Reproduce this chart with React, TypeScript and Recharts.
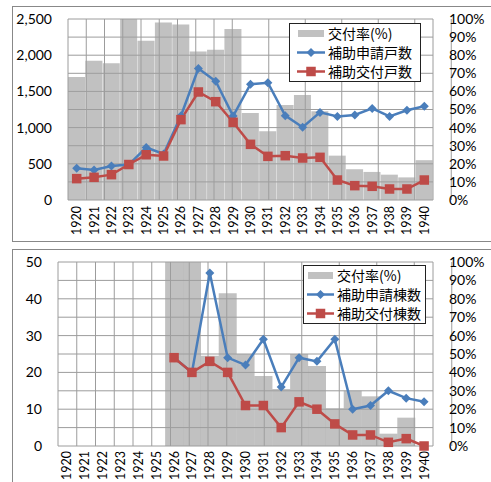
import {
  Bar,
  CartesianGrid,
  ComposedChart,
  Legend,
  Line,
  XAxis,
  YAxis,
} from "recharts";

const years = [
  "1920", "1921", "1922", "1923", "1924", "1925", "1926",
  "1927", "1928", "1929", "1930", "1931", "1932", "1933",
  "1934", "1935", "1936", "1937", "1938", "1939", "1940",
];

// 戸数
const houseRate = [
  68, 77, 75.5, 100, 88, 98, 97, 82, 83, 94.5, 48, 38, 52.5, 58, 49, 24.5, 17,
  15.5, 14, 12.5, 22,
];
const housesApplied = [
  440, 415, 470, 490, 725, 635, 1165, 1815, 1640, 1160, 1600, 1620, 1165, 1005,
  1210, 1155, 1175, 1265, 1155, 1240, 1295,
];
const housesGranted = [
  295, 313, 350, 490, 625, 608, 1110, 1492, 1358, 1073, 769, 603, 612, 580,
  589, 276, 198, 189, 152, 152, 276,
];

// 棟数
const buildingRate = [
  null, null, null, null, null, null, 100, 100, 49, 83, 50, 38, 31, 50, 43.5,
  20.5, 30, 27, 6.7, 15.4, 0,
];
const buildingsApplied = [
  null, null, null, null, null, null, 24, 20, 47, 24, 22, 29, 16, 24, 23, 29,
  10, 11, 15, 13, 12,
];
const buildingsGranted = [
  null, null, null, null, null, null, 24, 20, 23, 20, 11, 11, 5, 12, 10, 6, 3,
  3, 1, 2, 0,
];

const houseTicks = [0, 500, 1000, 1500, 2000, 2500];
const buildingTicks = [0, 10, 20, 30, 40, 50];
const pctTicks = [0, 10, 20, 30, 40, 50, 60, 70, 80, 90, 100];
const bandEdges = years.map((_, i) => i).concat(years.length);

// bars are translucent so the grid shows through them
const BAR = "#9e9e9e";
const BAR_OPACITY = 0.64;
const BAR_SWATCH = "#c1c1c1";
const BLUE = "#4a7ebb";
const RED = "#be4b48";
const GRID = "#9c9c9c";
const FONT = "Lato, 'Noto Sans CJK JP', sans-serif";
const LEGEND_FONT = "'Noto Sans CJK JP', sans-serif";

const houseData = years.map((year, i) => ({
  year,
  rate: houseRate[i],
  applied: housesApplied[i],
  granted: housesGranted[i],
}));

const buildingData = years.map((year, i) => ({
  year,
  rate: buildingRate[i],
  applied: buildingsApplied[i],
  granted: buildingsGranted[i],
}));

const Diamond = (props: any) => {
  const { cx, cy, value, index } = props;
  if (cx == null || cy == null || value == null) return <g key={index} />;
  const r = 4.5;
  return (
    <path
      key={index}
      d={`M${cx},${cy - r}L${cx + r},${cy}L${cx},${cy + r}L${cx - r},${cy}Z`}
      fill={BLUE}
    />
  );
};

const Square = (props: any) => {
  const { cx, cy, value, index } = props;
  if (cx == null || cy == null || value == null) return <g key={index} />;
  const h = 4.75;
  return <rect key={index} x={cx - h} y={cy - h} width={h * 2} height={h * 2} fill={RED} />;
};

const YearTick = (props: any) => {
  const { x, y, payload } = props;
  return (
    <text
      x={x}
      y={y}
      transform={`rotate(-90, ${x}, ${y})`}
      textAnchor="end"
      dominantBaseline="central"
      fontSize={12.5}
      fontFamily="'Liberation Sans Narrow', Lato, sans-serif"
      fill="#000"
    >
      {payload.value}
    </text>
  );
};

interface LegendBoxProps {
  names: [string, string, string];
  padLeft: number;
  swatchWidth: number;
  width: number;
}

function LegendBox({ names, padLeft, swatchWidth, width }: LegendBoxProps) {
  const mid = swatchWidth / 2;
  const symbols = [
    <rect x={1} y={6} width={swatchWidth - 2} height={7} fill={BAR_SWATCH} />,
    <g>
      <line x1={0} y1={9.5} x2={swatchWidth} y2={9.5} stroke={BLUE} strokeWidth={2.5} />
      <path d={`M${mid},5L${mid + 4.5},9.5L${mid},14L${mid - 4.5},9.5Z`} fill={BLUE} />
    </g>,
    <g>
      <line x1={0} y1={9.5} x2={swatchWidth} y2={9.5} stroke={RED} strokeWidth={2.5} />
      <rect x={mid - 4.75} y={4.75} width={9.5} height={9.5} fill={RED} />
    </g>,
  ];
  return (
    <div
      style={{
        width,
        boxSizing: "border-box",
        border: "1px solid #222",
        background: "#fff",
        padding: `0 0 0 ${padLeft}px`,
        fontFamily: LEGEND_FONT,
        fontSize: 14,
        color: "#000",
      }}
    >
      {names.map((name, i) => (
        <div key={name} style={{ display: "flex", alignItems: "center", height: 19 }}>
          <svg width={swatchWidth} height={19} style={{ display: "block" }}>
            {symbols[i]}
          </svg>
          <span style={{ marginLeft: 3, lineHeight: "19px", whiteSpace: "nowrap" }}>{name}</span>
        </div>
      ))}
    </div>
  );
}

interface PanelProps {
  data: typeof houseData;
  height: number;
  marginTop: number;
  leftWidth: number;
  xAxisHeight: number;
  labelGap: number;
  countTicks: number[];
  countFormat: (v: number) => string;
  legendNames: [string, string, string];
  legendLeft: number;
  legendTop: number;
  legendWidth: number;
  legendPad: number;
  swatchWidth: number;
}

function Panel(p: PanelProps) {
  const countMax = p.countTicks[p.countTicks.length - 1];
  return (
    <ComposedChart
      width={491}
      height={p.height}
      data={p.data}
      barCategoryGap={0}
      margin={{ top: p.marginTop, right: 0, bottom: 0, left: 0 }}
      style={{ fontFamily: FONT }}
    >
      <XAxis
        dataKey="year"
        height={p.xAxisHeight}
        interval={0}
        tickLine={false}
        axisLine={false}
        tickSize={0}
        tickMargin={p.labelGap}
        tick={<YearTick />}
      />
      <XAxis
        xAxisId="edges"
        type="number"
        domain={[0, years.length]}
        ticks={bandEdges}
        hide
      />
      <YAxis
        yAxisId="count"
        width={p.leftWidth}
        domain={[0, countMax]}
        ticks={p.countTicks}
        interval={0}
        tickLine={false}
        axisLine={false}
        tickSize={0}
        tickMargin={16}
        tick={{ fontSize: 14, fill: "#000", fontFamily: FONT }}
        tickFormatter={p.countFormat}
      />
      <YAxis
        yAxisId="pct"
        orientation="right"
        width={58}
        domain={[0, 100]}
        ticks={pctTicks}
        interval={0}
        tickLine={false}
        axisLine={false}
        tickSize={0}
        tickMargin={16}
        tick={{ fontSize: 14, fill: "#000", fontFamily: FONT, textAnchor: "start" }}
        tickFormatter={(v: number) => `${v}%`}
      />
      <CartesianGrid
        xAxisId="edges"
        yAxisId="pct"
        stroke={GRID}
        strokeWidth={1}
        fill="none"
      />
      <Bar
        yAxisId="pct"
        dataKey="rate"
        name="交付率(%)"
        fill={BAR}
        fillOpacity={BAR_OPACITY}
        isAnimationActive={false}
      />
      <Line
        yAxisId="count"
        dataKey="applied"
        name={p.legendNames[1]}
        stroke={BLUE}
        strokeWidth={2.5}
        dot={<Diamond />}
        activeDot={false}
        isAnimationActive={false}
      />
      <Line
        yAxisId="count"
        dataKey="granted"
        name={p.legendNames[2]}
        stroke={RED}
        strokeWidth={2.5}
        dot={<Square />}
        activeDot={false}
        isAnimationActive={false}
      />
      <Legend
        layout="vertical"
        align="center"
        verticalAlign="middle"
        wrapperStyle={{ left: p.legendLeft, top: p.legendTop, width: "auto", height: "auto" }}
        content={() => (
          <LegendBox
            names={p.legendNames}
            padLeft={p.legendPad}
            swatchWidth={p.swatchWidth}
            width={p.legendWidth}
          />
        )}
      />
    </ComposedChart>
  );
}

const frame: React.CSSProperties = {
  position: "absolute",
  left: 12,
  width: 520,
  boxSizing: "border-box",
  border: "1px solid #888",
};

export default function App() {
  return (
    <div
      style={{
        position: "fixed",
        left: 0,
        top: 0,
        width: 491,
        height: 482,
        overflow: "hidden",
        background: "#fff",
      }}
    >
      <div style={{ ...frame, top: 6, height: 236 }} />
      <div style={{ ...frame, top: 249, height: 260 }} />
      <div style={{ position: "absolute", left: 0, top: 0 }}>
        <Panel
          data={houseData}
          height={241}
          marginTop={19}
          leftWidth={68}
          xAxisHeight={41}
          labelGap={6}
          countTicks={houseTicks}
          countFormat={(v) => v.toLocaleString("en-US")}
          legendNames={["交付率(%)", "補助申請戸数", "補助交付戸数"]}
          legendLeft={289}
          legendTop={23}
          legendWidth={132}
          legendPad={7}
          swatchWidth={28}
        />
      </div>
      <div style={{ position: "absolute", left: 0, top: 241 }}>
        <Panel
          data={buildingData}
          height={241}
          marginTop={21}
          leftWidth={58}
          xAxisHeight={36}
          labelGap={5}
          countTicks={buildingTicks}
          countFormat={(v) => String(v)}
          legendNames={["交付率(%)", "補助申請棟数", "補助交付棟数"]}
          legendLeft={303}
          legendTop={24}
          legendWidth={123}
          legendPad={3}
          swatchWidth={27}
        />
      </div>
    </div>
  );
}
